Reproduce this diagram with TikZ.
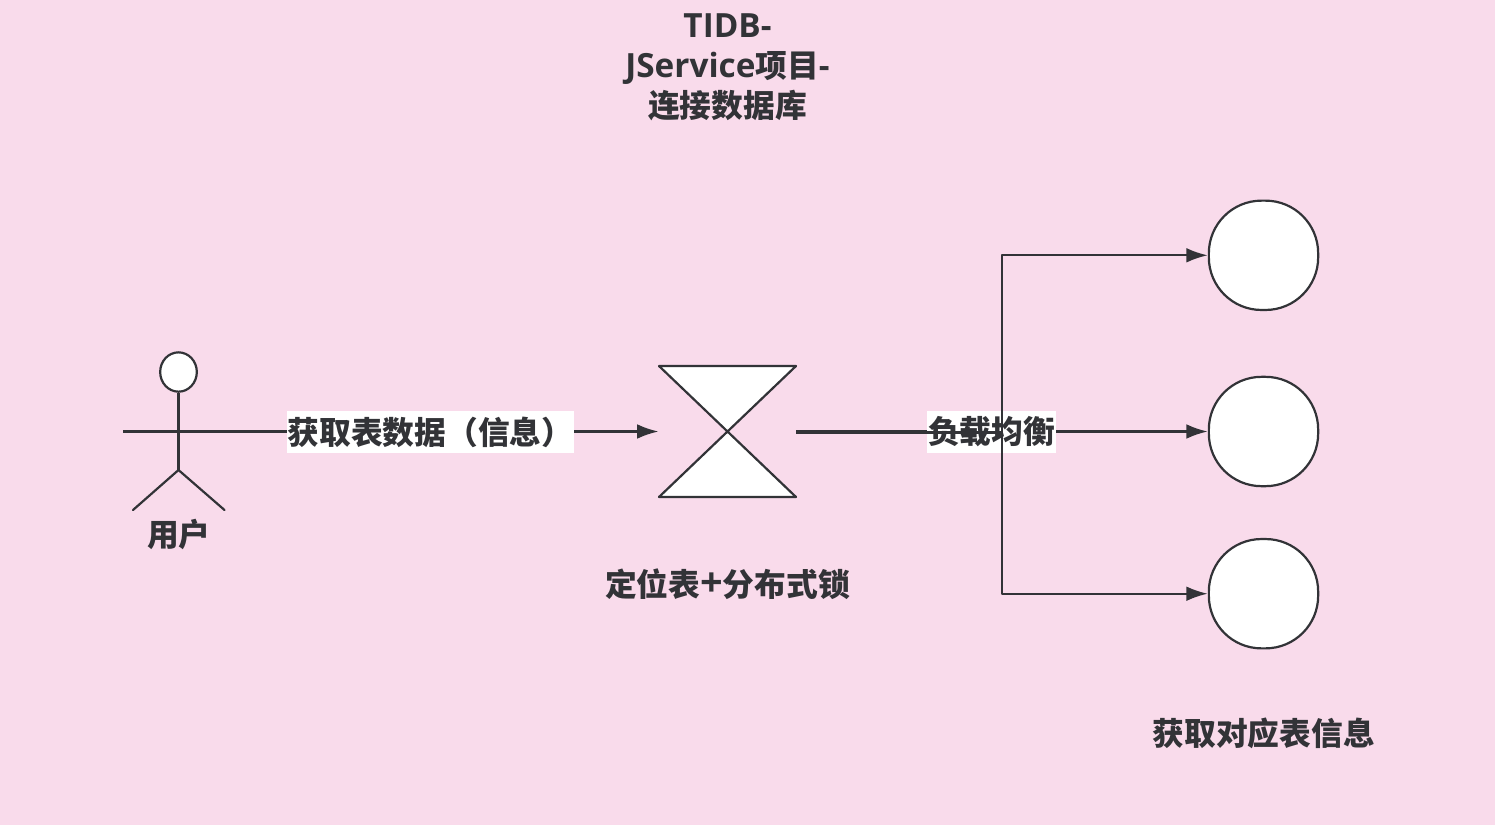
\documentclass[tikz,border=0pt]{standalone}
\usepackage{fontspec}
\setmainfont{Noto Sans CJK SC}
\newfontfamily\latf[Scale=1.05]{Open Sans}
\newfontfamily\plusf[Scale=1.25]{Open Sans}
\usetikzlibrary{arrows.meta,shapes.geometric}
\definecolor{bgpink}{HTML}{F9DBEB}
\definecolor{ink}{HTML}{323337}
\tikzset{
  x=0.75pt,y=-0.75pt,
  ln/.style={draw=ink,line width=1.65pt,line join=round},
  conn/.style={ln,-{Latex[length=16pt,width=11pt,sharp]}},
  shapefill/.style={ln,fill=white},
  lbl/.style={text=ink,font=\bfseries\fontsize{23.8pt}{30pt}\selectfont,inner sep=0pt,align=center},
  edgelbl/.style={lbl,fill=white,inner xsep=0.6pt,minimum height=31.5pt},
  bigcircle/.style={shapefill,rectangle,minimum width=82pt,minimum height=82pt,inner sep=0pt,rounded corners=39.5pt},
}
\begin{document}
\begin{tikzpicture}
\useasboundingbox (0,0) rectangle (1495,825);
\fill[bgpink] (0,0) rectangle (1495,825);
% coordinates
\coordinate (armL) at (123,431.5);
\coordinate (armR) at (234,431.5);
\coordinate (hip) at (178.5,470);
\coordinate (legL) at (133,510);
\coordinate (legR) at (224.5,510);
\coordinate (hgTL) at (659,366);
\coordinate (hgTR) at (796,366);
\coordinate (hgBL) at (659,497);
\coordinate (hgBR) at (796,497);
\coordinate (hgIn) at (658.5,431.5);
\coordinate (hgOut) at (796,431.5);
\coordinate (hgOutB) at (796,432.4);
\coordinate (bend) at (1002,431.5);
% actor
\node[shapefill,ellipse,minimum width=27.5pt,minimum height=29.5pt,inner sep=0pt] (head) at (178.5,372) {};
\draw[ln] (head.south) -- (hip);
\draw[ln] (armL) -- (armR);
\draw[ln,line cap=round] (legL) -- (hip) -- (legR);
\node[lbl] (user) at (178.8,534.5) {用户};
% hourglass
\draw[shapefill] (hgTL) -- (hgTR) -- (hgBL) -- (hgBR) -- cycle;
\node[lbl] (lock) at (727.5,584) {定位表{\plusf +}分布式锁};
% circles
\node[bigcircle] (c1) at (1263.5,255.3) {};
\node[bigcircle] (c2) at (1263.5,431.5) {};
\node[bigcircle] (c3) at (1263.5,593.7) {};
\node[lbl] (info) at (1263.8,733) {获取对应表信息};
% title
\node[lbl] (title) at (727.5,67.5) {{\latf TIDB-}\\{\latf JService}项目{\latf -}\\连接数据库};
% connectors
\draw[conn] (armR) -- (hgIn) node[edgelbl,pos=0.463,yshift=-0.4pt] (l1) {获取表数据（信息）};
\draw[conn] (hgOut) -- (c2.west);
\node[edgelbl] (l2) at (991.5,432) {负载均衡};
\draw[conn] (hgOutB) -| (bend) |- (c1.west);
\draw[conn] (hgOutB) -| (bend) |- (c3.west);
\end{tikzpicture}
\end{document}
